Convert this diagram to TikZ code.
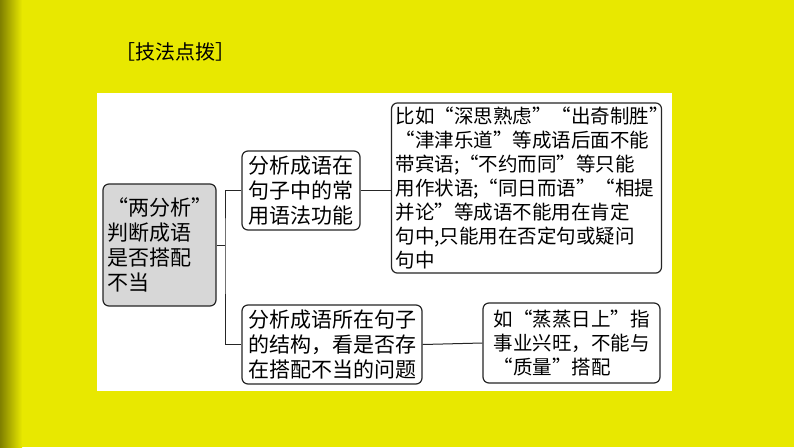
\documentclass[tikz,border=0pt]{standalone}
\usepackage{fontspec}
\setmainfont{Noto Sans CJK SC}
\usetikzlibrary{positioning}
\definecolor{bgyellow}{RGB}{232,232,0}
\definecolor{boxgray}{RGB}{215,215,215}
\tikzset{
  box/.style={draw=black!85, line width=1.2pt, rounded corners=6pt, fill=white,
    align=left, inner sep=4pt, font=\fontsize{21}{25}\selectfont},
  smallbox/.style={box, font=\fontsize{19.5}{24}\selectfont},
  link/.style={line width=1pt, black!85}
}
\begin{document}
\begin{tikzpicture}[x=1pt, y=-1pt]
  \useasboundingbox (0,0) rectangle (794,447);
  % background
  \fill[bgyellow] (0,0) rectangle (794,447);
  \shade[left color=black!45!bgyellow, right color=bgyellow] (0,0) rectangle (22,447);
  \fill[white] (97,93) rectangle (672,391);
  \node[font=\fontsize{20}{24}\selectfont, anchor=west] (title) at (112,52) {［技法点拨］};

  % boxes
  \node[box, fill=boxgray, minimum width=101pt, minimum height=122pt] (root) at (159.5,245) {“两分析”\\判断成语\\是否搭配\\不当};
  \node[box, minimum width=118pt, minimum height=79pt] (func) at (301,190.5) {分析成语在\\句子中的常\\用语法功能};
  \node[box, minimum width=180pt, minimum height=79pt] (struct) at (332,344.5) {分析成语所在句子\\的结构，看是否存\\在搭配不当的问题};
  \node[smallbox, text width=262pt, minimum height=170pt] (eg1) at (526.5,188) {比如“深思熟虑”“出奇制胜”\\“津津乐道”等成语后面不能\\带宾语;“不约而同”等只能\\用作状语;“同日而语”“相提\\并论”等成语不能用在肯定\\句中,只能用在否定句或疑问\\句中};
  \node[smallbox, minimum width=177pt, minimum height=80pt] (eg2) at (571.5,343) {如“蒸蒸日上”指\\事业兴旺，不能与\\“质量”搭配};

  % connectors
  \coordinate (fork) at (225,245);
  \draw[link] (root.east) -- (fork);
  \draw[link] (func.west) -| (fork) |- (struct.west);
  \draw[link] (func.east) -- (func.east -| eg1.west);
  \draw[link] (struct.east) -- (eg2.west);
\end{tikzpicture}
\end{document}
